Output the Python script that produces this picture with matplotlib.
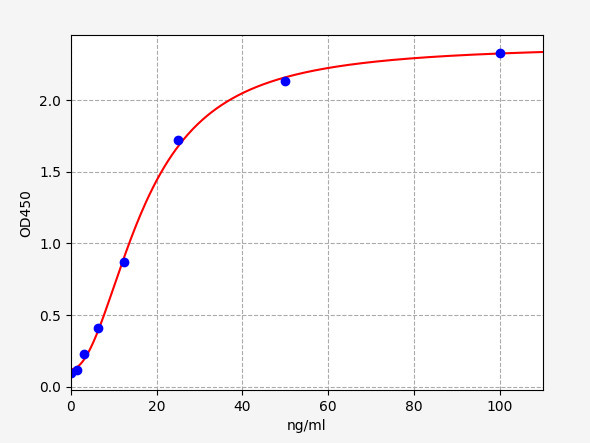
import numpy as np
import matplotlib
matplotlib.use('Agg')
import matplotlib.pyplot as plt

conc = np.array([0, 1.56, 3.125, 6.25, 12.5, 25, 50, 100])
od = np.array([0.10, 0.12, 0.23, 0.41, 0.87, 1.72, 2.13, 2.33])

# 4PL fit: for fixed c,b the model is linear in a,d
best = None
for c in np.linspace(5, 60, 221):
    for b in np.linspace(0.8, 4, 161):
        g = 1.0 / (1.0 + (conc / c) ** b)
        A = np.column_stack([g, 1 - g])
        coef, *_ = np.linalg.lstsq(A, od, rcond=None)
        err = np.sum((A @ coef - od) ** 2)
        if best is None or err < best[0]:
            best = (err, c, b, coef)
_, c, b, (a, d) = best
xs = np.linspace(0, 110, 500)
gs = 1.0 / (1.0 + (xs / c) ** b)
ys = a * gs + d * (1 - gs)

fig = plt.figure(figsize=(5.9, 4.43), dpi=100, facecolor='#f5f5f5')
ax = fig.add_axes([0.12, 0.12, 0.80, 0.80])
ax.plot(xs, ys, 'r-', lw=1.5)
ax.plot(conc, od, 'bo', ms=6)
ax.set_xlim(0, 110)
ax.set_ylim(-0.02, 2.45)
ax.set_xticks([0, 20, 40, 60, 80, 100])
ax.set_yticks([0.0, 0.5, 1.0, 1.5, 2.0])
ax.grid(True, ls='--', color='#aaaaaa', lw=0.8)
ax.set_xlabel('ng/ml')
ax.set_ylabel('OD450')
fig.savefig('out.png', dpi=100, facecolor=fig.get_facecolor())
